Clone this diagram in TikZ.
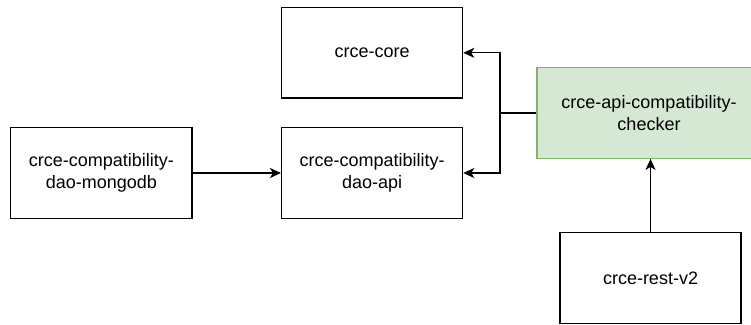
\documentclass[tikz,border=0pt]{standalone}
\usepackage{fontspec}
\setmainfont{Liberation Sans}
\usetikzlibrary{arrows.meta}
\tikzset{
  box/.style={draw=black, fill=white, line width=1.3pt, rectangle, minimum width=181pt, minimum height=90.5pt, align=center, inner sep=0pt, font=\fontsize{18}{21.6}\selectfont},
  greenbox/.style={box, fill=green!0, fill={rgb,255:red,213;green,232;blue,212}, draw={rgb,255:red,130;green,179;blue,102}},
  arr/.style={line width=1.3pt, -{Stealth[length=11pt,width=10pt,inset=3pt]}},
  plain/.style={line width=1.3pt}
}
\begin{document}
\begin{tikzpicture}[x=1pt,y=-1pt]
\useasboundingbox (0,0) rectangle (751,324);
\clip (0,0) rectangle (751,324);
\node[box] (core) at (372.1,52.8) {crce-core};
\node[box] (dao) at (372.1,173) {crce-compatibility-\\dao-api};
\node[box, minimum width=181.5pt] (mongo) at (101.3,173) {crce-compatibility-\\dao-mongodb};
\node[greenbox, minimum width=224pt] (checker) at (649,113) {crce-api-compatibility-\\checker};
\node[box] (rest) at (650.5,278) {crce-rest-v2};
\coordinate (j) at (500,113);
\draw[plain] (checker.west) -- (j);
\draw[arr] (j) |- (core.east);
\draw[arr] (j) |- (dao.east);
\draw[arr] (mongo.east) -- (dao.west);
\draw[arr] (rest.north) -- (rest.north |- checker.south);
\end{tikzpicture}
\end{document}
